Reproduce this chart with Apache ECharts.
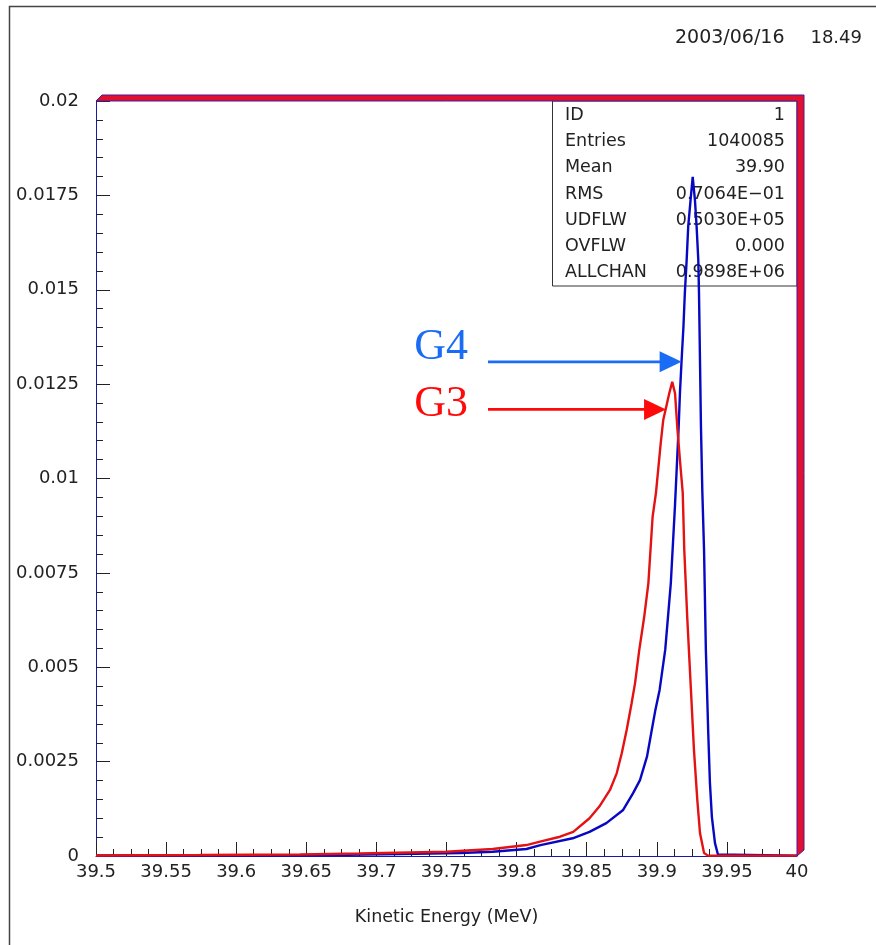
<!DOCTYPE html>
<html>
<head>
<meta charset="utf-8">
<script src="https://cdn.jsdelivr.net/npm/echarts@6/dist/echarts.min.js"></script>
<style>
  html, body { margin: 0; padding: 0; background: #fff; }
  #chart { width: 876px; height: 945px; }
</style>
</head>
<body>
<div id="chart"></div>
<script>
// Normalised kinetic-energy spectra (fraction of entries per bin) for G4 and G3
const g4Energy = [39.5, 39.610, 39.667, 39.717, 39.760, 39.783, 39.807, 39.817, 39.840, 39.852,
  39.864, 39.876, 39.883, 39.888, 39.893, 39.896, 39.899, 39.902, 39.904, 39.906,
  39.910, 39.913, 39.9156, 39.9165, 39.9177, 39.919, 39.920, 39.9213, 39.9224, 39.9241,
  39.9256, 39.9272, 39.9284, 39.9296, 39.9301, 39.9308, 39.9315, 39.9325, 39.9337, 39.935,
  39.9367, 39.9379, 39.9393, 39.9415, 39.9436, 40.0];
const g4Density = [0.000013, 0.000019, 0.000026, 0.000053, 0.00008, 0.000114, 0.000185, 0.00029, 0.00047, 0.00064,
  0.00087, 0.00122, 0.00166, 0.00201, 0.00263, 0.00325, 0.00387, 0.0044, 0.00493, 0.00546,
  0.00723, 0.0093, 0.01137, 0.01226, 0.01314, 0.01402, 0.01491, 0.01579, 0.01667, 0.01738,
  0.01799, 0.01738, 0.01667, 0.01579, 0.01491, 0.01314, 0.01137, 0.00962, 0.00811, 0.00546,
  0.00326, 0.00193, 0.00103, 0.00034, 0.00004, 0.00001];

const g3Energy = [39.5, 39.574, 39.6455, 39.688, 39.750, 39.783, 39.807, 39.8167, 39.831, 39.8404,
  39.852, 39.859, 39.8666, 39.8714, 39.875, 39.8785, 39.882, 39.8845, 39.8875, 39.891,
  39.894, 39.897, 39.8994, 39.9028, 39.9046, 39.9089, 39.911, 39.913, 39.9146, 39.9165,
  39.9185, 39.9196, 39.9217, 39.9241, 39.9265, 39.9289, 39.9308, 39.9337, 39.9365, 40.0];
const g3Density = [0.000013, 0.000026, 0.00004, 0.000066, 0.000114, 0.000185, 0.00029, 0.00038, 0.00051, 0.00064,
  0.001, 0.00131, 0.00175, 0.00219, 0.00272, 0.00334, 0.00404, 0.00458, 0.00546, 0.00633,
  0.00723, 0.00898, 0.00962, 0.01094, 0.01155, 0.01226, 0.01256, 0.01226, 0.01137, 0.01049,
  0.00962, 0.00811, 0.00633, 0.00458, 0.00281, 0.00148, 0.00061, 0.00008, 0.00001, 0.00001];

// Statistics panel of histogram ID 1
const statNames = ['ID', 'Entries', 'Mean', 'RMS', 'UDFLW', 'OVFLW', 'ALLCHAN'];
const statValues = ['1', '1040085', '39.90', '0.7064E\u221201', '0.5030E+05', '0.000', '0.9898E+06'];

// Arrow annotations: [start energy, tip energy, tip density]
const g4Arrow = [39.7796, 39.9177, 0.01309];
const g3Arrow = [39.7796, 39.9066, 0.01183];

const dateText = '2003/06/16';
const timeText = '18.49';

const pairs = (xs, ys) => xs.map((x, i) => [x, ys[i]]);

const FONT = 'DejaVu Sans';
const chart = echarts.init(document.getElementById('chart'), null, { renderer: 'canvas' });

const tickStyle = { color: '#222', width: 1 };

const option = {
  animation: false,
  backgroundColor: '#fff',
  grid: { left: 96, top: 101, width: 701, height: 755 },
  xAxis: {
    type: 'value', min: 39.5, max: 40, interval: 0.05,
    name: 'Kinetic Energy (MeV)', nameLocation: 'middle', nameGap: 52,
    nameTextStyle: { fontFamily: FONT, fontSize: 17.5, color: '#222' },
    axisLine: { show: true, lineStyle: { color: '#1a1aa8', width: 1 } },
    axisTick: { show: true, inside: true, length: 14, lineStyle: tickStyle },
    minorTick: { show: true, splitNumber: 4, length: 7, lineStyle: tickStyle },
    axisLabel: { fontFamily: FONT, fontSize: 18, color: '#222', margin: 7,
      showMinLabel: true, showMaxLabel: true,
      formatter: v => String(+v.toFixed(2)) },
    splitLine: { show: false }
  },
  yAxis: {
    type: 'value', min: 0, max: 0.02, interval: 0.0025,
    axisLine: { show: true, lineStyle: { color: '#1a1aa8', width: 1 } },
    axisTick: { show: true, inside: true, length: 14, lineStyle: tickStyle },
    minorTick: { show: true, splitNumber: 5, length: 7, lineStyle: tickStyle },
    axisLabel: { fontFamily: FONT, fontSize: 18, color: '#222', margin: 17,
      showMinLabel: true, showMaxLabel: true,
      formatter: v => String(+v.toFixed(4)) },
    splitLine: { show: false }
  },
  series: [
    {
      name: 'G4', type: 'line', data: pairs(g4Energy, g4Density),
      showSymbol: false, symbol: 'none', z: 5,
      lineStyle: { color: '#0808c4', width: 2.4 }
    },
    {
      name: 'G3', type: 'line', data: pairs(g3Energy, g3Density),
      showSymbol: false, symbol: 'none', z: 6,
      lineStyle: { color: '#e41212', width: 2.4 }
    }
  ]
};
chart.setOption(option);

// Decorations built from the chart's own coordinate system
function arrowGraphics(spec, color) {
  const start = chart.convertToPixel({ gridIndex: 0 }, [spec[0], spec[2]]);
  const tip = chart.convertToPixel({ gridIndex: 0 }, [spec[1], spec[2]]);
  const headLen = 22, headHalf = 10.5;
  return [
    { type: 'line', z: 20, shape: { x1: start[0], y1: tip[1], x2: tip[0] - headLen + 2, y2: tip[1] },
      style: { stroke: color, lineWidth: 2.6 } },
    { type: 'polygon', z: 20,
      shape: { points: [[tip[0], tip[1]], [tip[0] - headLen, tip[1] - headHalf], [tip[0] - headLen, tip[1] + headHalf]] },
      style: { fill: color } }
  ];
}

const plotLeft = 96, plotTop = 101, plotRight = 797, plotBottom = 856;
const statElems = [];
statNames.forEach((n, i) => {
  const y = 115.5 + i * 26.2;
  statElems.push({ type: 'text', z: 3, style: { text: n, x: 565, y: y, fill: '#222',
    font: '17.5px "' + FONT + '"', textAlign: 'left', textVerticalAlign: 'middle' } });
  statElems.push({ type: 'text', z: 3, style: { text: statValues[i], x: 785, y: y, fill: '#222',
    font: '17.5px "' + FONT + '"', textAlign: 'right', textVerticalAlign: 'middle' } });
});

const g4Start = chart.convertToPixel({ gridIndex: 0 }, [g4Arrow[0], g4Arrow[2]]);
const g3Start = chart.convertToPixel({ gridIndex: 0 }, [g3Arrow[0], g3Arrow[2]]);

chart.setOption({
  graphic: [
    // outer page frame
    { type: 'rect', z: 1, shape: { x: 9.5, y: 6.5, width: 1000, height: 1000 },
      style: { fill: 'none', stroke: '#444', lineWidth: 1.5 } },
    // date / time stamp
    { type: 'text', z: 1, style: { text: dateText, x: 675, y: 38.5, fill: '#222',
      font: '19px "' + FONT + '"', textAlign: 'left', textVerticalAlign: 'middle' } },
    { type: 'text', z: 1, style: { text: timeText, x: 862, y: 38.5, fill: '#222',
      font: '18px "' + FONT + '"', textAlign: 'right', textVerticalAlign: 'middle' } },
    // statistics box
    { type: 'rect', z: 2, shape: { x: 552.5, y: plotTop, width: plotRight - 552.5, height: 185 },
      style: { fill: '#fff', stroke: '#333', lineWidth: 1 } },
    ...statElems,
    // shaded frame along top and right edges
    { type: 'polygon', z: 10,
      shape: { points: [[plotLeft, plotTop], [plotLeft + 6, plotTop - 6], [plotRight + 7, plotTop - 6],
                        [plotRight + 7, plotBottom - 6], [plotRight, plotBottom], [plotRight, plotTop]] },
      style: { fill: '#e0102e', stroke: '#4a1a9a', lineWidth: 1 } },
    // annotation labels
    { type: 'text', z: 20, style: { text: 'G4', x: g4Start[0] - 20, y: g4Start[1] + 8,
      font: '44px "Liberation Serif"', fill: '#1a6cf5', textAlign: 'right', textVerticalAlign: 'bottom' } },
    { type: 'text', z: 20, style: { text: 'G3', x: g3Start[0] - 20, y: g3Start[1] + 17,
      font: '44px "Liberation Serif"', fill: '#ff0a0a', textAlign: 'right', textVerticalAlign: 'bottom' } },
    ...arrowGraphics(g4Arrow, '#1a6cf5'),
    ...arrowGraphics(g3Arrow, '#ff0a0a')
  ]
});
</script>
</body>
</html>
